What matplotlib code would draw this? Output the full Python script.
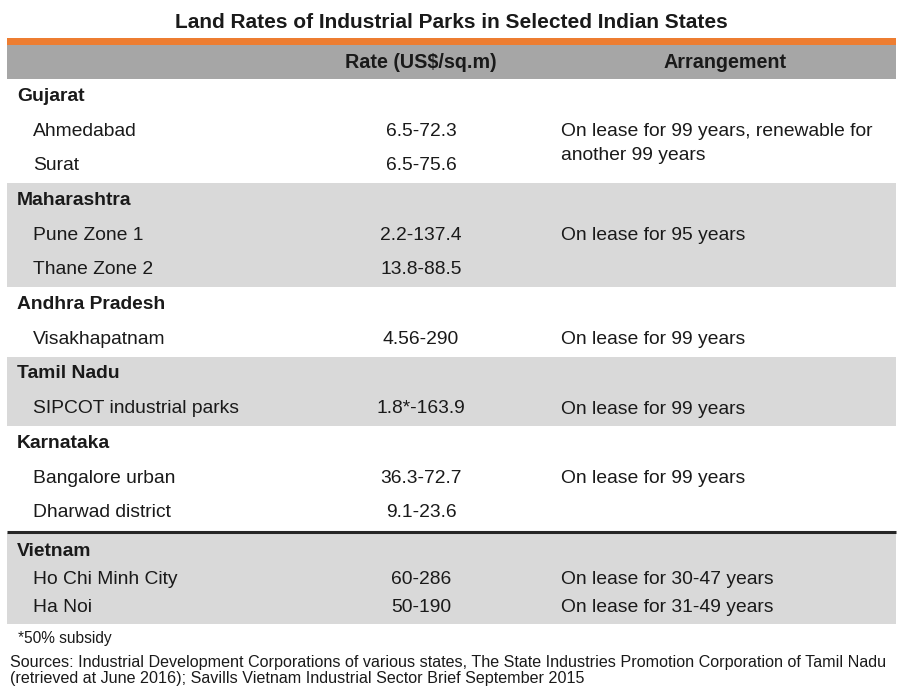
import matplotlib.pyplot as plt
from matplotlib.patches import Rectangle

plt.rcParams['font.family'] = ['Liberation Sans', 'DejaVu Sans']

title = "Land Rates of Industrial Parks in Selected Indian States"
col_headers = ["Rate (US$/sq.m)", "Arrangement"]

groups = ["Gujarat", "Maharashtra", "Andhra Pradesh", "Tamil Nadu", "Karnataka", "Vietnam"]
places = [["Ahmedabad", "Surat"],
          ["Pune Zone 1", "Thane Zone 2"],
          ["Visakhapatnam"],
          ["SIPCOT industrial parks"],
          ["Bangalore urban", "Dharwad district"],
          ["Ho Chi Minh City", "Ha Noi"]]
rates = [["6.5-72.3", "6.5-75.6"],
         ["2.2-137.4", "13.8-88.5"],
         ["4.56-290"],
         ["1.8*-163.9"],
         ["36.3-72.7", "9.1-23.6"],
         ["60-286", "50-190"]]
arrangements = [["On lease for 99 years, renewable for\nanother 99 years", ""],
                ["On lease for 95 years", ""],
                ["On lease for 99 years"],
                ["On lease for 99 years"],
                ["On lease for 99 years", ""],
                ["On lease for 30-47 years", "On lease for 31-49 years"]]

footnote = "*50% subsidy"
sources = ("Sources: Industrial Development Corporations of various states, The State Industries Promotion Corporation of Tamil Nadu\n"
           "(retrieved at June 2016); Savills Vietnam Industrial Sector Brief September 2015")

W, H = 901, 693
fig = plt.figure(figsize=(W / 100, H / 100), dpi=100)
ax = fig.add_axes([0, 0, 1, 1])
ax.set_xlim(0, W)
ax.set_ylim(H, 0)
ax.axis('off')

txt = '#1a1a1a'
left, right = 7, 896
x_state, x_place, x_rate, x_arr = 17, 33, 421, 561
fs = 13.9

ax.text(451, 22, title, ha='center', va='center', fontsize=15, fontweight='bold', color=txt)
ax.add_patch(Rectangle((left, 38), right - left, 7, color='#ed7d31', lw=0))
ax.add_patch(Rectangle((left, 45), right - left, 34, color='#a6a6a6', lw=0))
ax.text(x_rate, 62.5, col_headers[0], ha='center', va='center', fontsize=14.2, fontweight='bold', color=txt)
ax.text(725, 62.5, col_headers[1], ha='center', va='center', fontsize=14.2, fontweight='bold', color=txt)

y = 79
for i, g in enumerate(groups):
    n = len(places[i])
    if g == "Vietnam":
        # dark rule above the Vietnam block
        ax.plot([left, right], [y + 1.5, y + 1.5], color='#262626', lw=2.2, solid_capstyle='butt')
        top = y + 3
        head, pitch, tail = 18, 28, 17
    else:
        top = y
        head, pitch, tail = 17.35, 34.7, 17.35
    bottom = top + head + pitch * n + tail
    if i % 2 == 1:
        ax.add_patch(Rectangle((left, top), right - left, bottom - top, color='#d9d9d9', lw=0, zorder=0))
    yc = top + head
    ax.text(x_state, yc, g, ha='left', va='center', fontsize=fs, fontweight='bold', color=txt)
    for j in range(n):
        yr = yc + pitch * (j + 1)
        ax.text(x_place, yr, places[i][j], ha='left', va='center', fontsize=fs, color=txt)
        ax.text(x_rate, yr, rates[i][j], ha='center', va='center', fontsize=fs, color=txt)
        if arrangements[i][j]:
            ax.text(x_arr, yr - 8, arrangements[i][j], ha='left', va='top', fontsize=fs,
                    color=txt, linespacing=1.5)
    y = bottom

ax.text(18, 638, footnote, ha='left', va='center', fontsize=11.2, color=txt)
ax.text(10, 655, sources, ha='left', va='top', fontsize=11.6, color=txt, linespacing=1.12)

fig.savefig('out.png', dpi=100)
